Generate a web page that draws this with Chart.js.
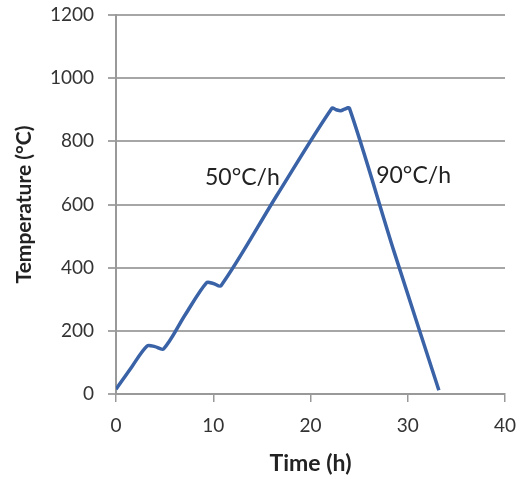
<!DOCTYPE html>
<html>
<head>
<meta charset="utf-8">
<script src="https://cdn.jsdelivr.net/npm/chart.js@4"></script>
<style>
html,body{margin:0;padding:0;background:#fff;}
#wrap{width:523px;height:477px;position:relative;}
</style>
</head>
<body>
<div id="wrap"><canvas id="c" width="523" height="477"></canvas></div>
<script>
// Data
const timeH = [0, 1.6, 3.2, 4.0, 4.9, 7.1, 9.3, 10.0, 10.8, 16.5, 22.2, 22.65, 23.1, 23.5, 24.0, 28.6, 33.2];
const tempC = [15, 85, 152, 150, 143, 250, 352, 350, 343, 627, 905, 900, 897, 902, 905, 450, 12];
const xTicks = [0, 10, 20, 30, 40];
const yTicks = [0, 200, 400, 600, 800, 1000, 1200];
const noteText = ["50°C/h", "90°C/h"];
const noteX = [13.0, 30.6];
const noteY = [684, 690];

const points = timeH.map((t, i) => ({x: t, y: tempC[i]}));

const notesPlugin = {
  id: 'notes',
  afterDatasetsDraw(chart) {
    const {ctx, scales} = chart;
    ctx.save();
    ctx.font = '23px Lato';
    ctx.fillStyle = '#222';
    ctx.textAlign = 'center';
    ctx.textBaseline = 'middle';
    noteText.forEach((t, i) => {
      ctx.fillText(t, scales.x.getPixelForValue(noteX[i]), scales.y.getPixelForValue(noteY[i]));
    });
    ctx.restore();
  }
};

new Chart(document.getElementById('c'), {
  type: 'line',
  data: {
    datasets: [{
      data: points,
      borderColor: '#3A62A7',
      borderWidth: 3.5,
      pointRadius: 0,
      tension: 0.3,
      fill: false
    }]
  },
  options: {
    responsive: false,
    animation: false,
    devicePixelRatio: 1,
    layout: {padding: {left: 0, right: 18, top: 15, bottom: 0}},
    plugins: {legend: {display: false}, tooltip: {enabled: false}},
    scales: {
      x: {
        type: 'linear',
        min: 0, max: 40,
        afterBuildTicks(s) { s.ticks = xTicks.map(v => ({value: v})); },
        afterFit(s) { s.height = 83; s.paddingLeft = 0; s.paddingRight = 0; },
        grid: {display: true, drawOnChartArea: false, drawTicks: true, tickLength: 8, color: '#999', lineWidth: 1.5},
        border: {display: true, color: '#999', width: 2},
        ticks: {font: {family: 'Lato', size: 19}, color: '#333', padding: 12, maxRotation: 0,
                callback: v => String(v)},
        title: {display: true, text: 'Time (h)', font: {family: 'Lato', size: 23, weight: 'bold'}, color: '#222', padding: {top: 4, bottom: 0}}
      },
      y: {
        min: 0, max: 1200,
        afterBuildTicks(s) { s.ticks = yTicks.map(v => ({value: v})); },
        afterFit(s) { s.width = 116; s.paddingTop = 0; s.paddingBottom = 0; },
        grid: {display: true, drawOnChartArea: true, drawTicks: true, tickLength: 8, color: '#A6A6A6', lineWidth: 2},
        border: {display: true, color: '#999', width: 2},
        ticks: {font: {family: 'Lato', size: 19}, color: '#333', padding: 14,
                callback: v => String(v)},
        title: {display: true, text: 'Temperature (°C)', font: {family: 'Lato', size: 21, weight: 'bold'}, color: '#222', padding: {top: 12, bottom: 0}}
      }
    }
  },
  plugins: [notesPlugin]
});
</script>
</body>
</html>
